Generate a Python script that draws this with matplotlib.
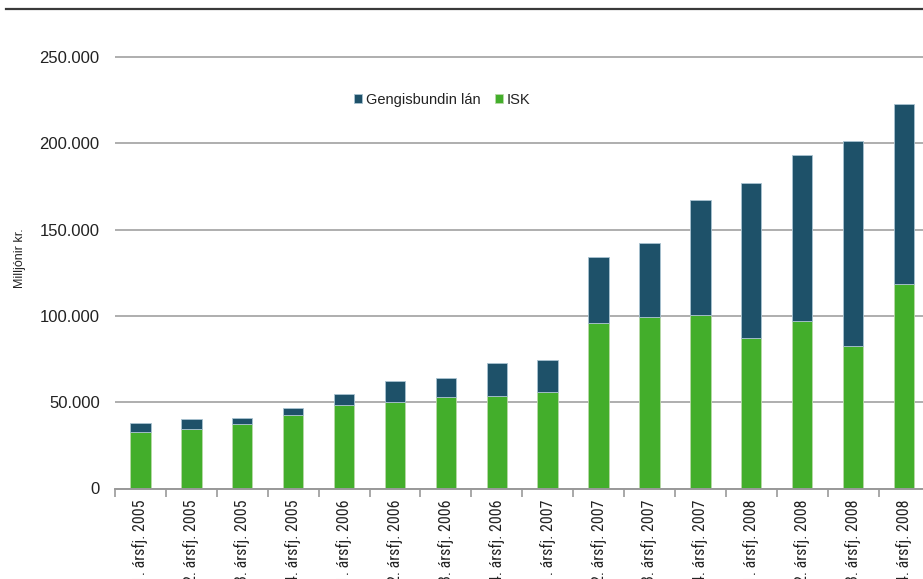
import matplotlib
matplotlib.use("Agg")
import matplotlib.pyplot as plt
from matplotlib.lines import Line2D
from matplotlib import font_manager

# Quarterly lending, millions ISK
quarters = ["1. ársfj. 2005", "2. ársfj. 2005", "3. ársfj. 2005", "4. ársfj. 2005",
            "1. ársfj. 2006", "2. ársfj. 2006", "3. ársfj. 2006", "4. ársfj. 2006",
            "1. ársfj. 2007", "2. ársfj. 2007", "3. ársfj. 2007", "4. ársfj. 2007",
            "1. ársfj. 2008", "2. ársfj. 2008", "3. ársfj. 2008", "4. ársfj. 2008"]
isk = [32700, 34500, 37500, 42600, 48400, 50100, 53000, 53600,
       55900, 95900, 99400, 100400, 87200, 97100, 82600, 118500]
fx_linked = [5300, 5900, 3500, 4000, 6500, 12000, 10800, 18900,
             18500, 38400, 42700, 66800, 89800, 96100, 118900, 104100]

y_ticks = [0, 50000, 100000, 150000, 200000, 250000]
y_tick_labels = ["0", "50.000", "100.000", "150.000", "200.000", "250.000"]

series_names = ["Gengisbundin lán", "ISK"]
teal = "#1e5169"
green = "#43ae2b"

names = {f.name for f in font_manager.fontManager.ttflist}
base_font = "Liberation Sans" if "Liberation Sans" in names else "DejaVu Sans"
narrow_font = "Roboto Condensed" if "Roboto Condensed" in names else base_font
plt.rcParams["font.family"] = [base_font, "DejaVu Sans"]

W, H = 923, 579
fig = plt.figure(figsize=(W / 100, H / 100), dpi=100)

# axes box in pixels; 50.000 per 86.3 px, zero line at y = 488.5
px_per_unit = 86.3 / 50000
y_max = 262500
left_px, right_px = 115, 929.4
bottom_px = 488.5
top_px = bottom_px - y_max * px_per_unit
ax = fig.add_axes([left_px / W, 1 - bottom_px / H,
                   (right_px - left_px) / W, (bottom_px - top_px) / H])

x = list(range(len(quarters)))
bw = 0.4
ax.bar(x, isk, width=bw, color=green, edgecolor="#b9d9a8", linewidth=0.6, zorder=3,
       label=series_names[1])
ax.bar(x, fx_linked, width=bw, bottom=isk, color=teal, edgecolor="#a9c3d1",
       linewidth=0.6, zorder=3, label=series_names[0])

ax.set_xlim(-0.5, len(quarters) - 0.5)
ax.set_ylim(0, y_max)

ax.set_yticks(y_ticks)
ax.set_yticklabels(y_tick_labels, fontsize=12, color="#222222")
ax.tick_params(axis="y", length=0, pad=11)
ax.yaxis.grid(True, color="#a8a8a8", linewidth=1.3, zorder=0)
ax.set_axisbelow(True)

ax.set_xticks(x)
ax.set_xticklabels(quarters, rotation=90, fontsize=11.5, family=[narrow_font, "DejaVu Sans"],
                   color="#222222", va="top", ha="center")
ax.tick_params(axis="x", length=0, pad=8)
# boundary tick marks between categories
ax.set_xticks([i - 0.5 for i in range(len(quarters) + 1)], minor=True)
ax.tick_params(axis="x", which="minor", length=6, width=1.2, color="#999999")

for s in ["top", "right", "left"]:
    ax.spines[s].set_visible(False)
ax.spines["bottom"].set_color("#999999")
ax.spines["bottom"].set_linewidth(1.4)
ax.spines["bottom"].set_zorder(4)

ax.set_ylabel("Milljónir kr.", fontsize=9, color="#222222", labelpad=0)
ax.yaxis.set_label_coords(-89 / (right_px - left_px), (bottom_px - 258) / (bottom_px - top_px))

handles, labels = ax.get_legend_handles_labels()
leg = fig.legend(handles[::-1], labels[::-1], loc="center left",
                 bbox_to_anchor=(354 / W, 1 - 100 / H), ncol=2, frameon=False,
                 fontsize=10.5, handlelength=0.55, handleheight=0.55,
                 handletextpad=0.25, columnspacing=1.0, borderaxespad=0, borderpad=0)
for t in leg.get_texts():
    t.set_color("#222222")

fig.add_artist(Line2D([6 / W, 1.0], [1 - 8.5 / H, 1 - 8.5 / H],
                      transform=fig.transFigure, color="#3a3a3a", linewidth=1.6))

fig.savefig("out.png", dpi=100)
